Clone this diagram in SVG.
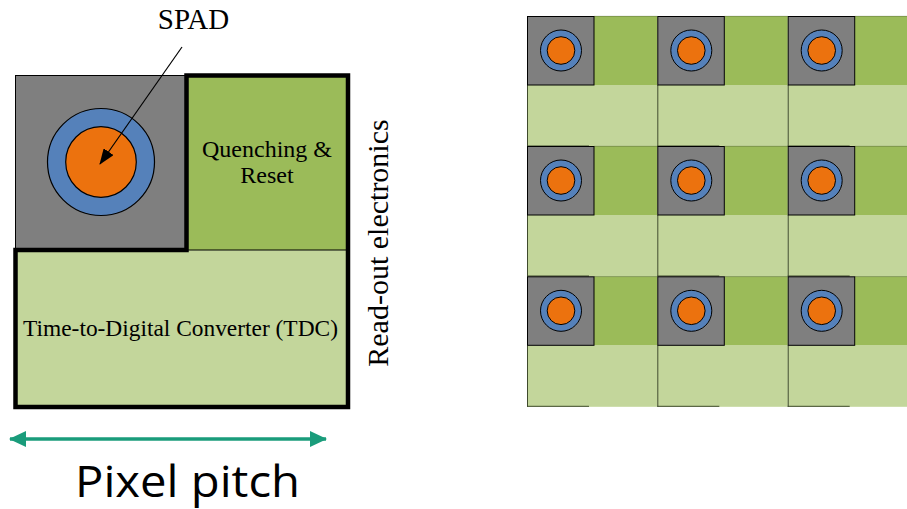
<svg xmlns="http://www.w3.org/2000/svg" xmlns:xlink="http://www.w3.org/1999/xlink" width="907" height="509" viewBox="0 0 907 509">
<style>
.gray{fill:#7f7f7f}
.dg{fill:#9bbb59}
.lg{fill:#c3d69b}
.ring{fill:#5581ba;stroke:#000}
.core{fill:#ec720e;stroke:#000}
.serif{font-family:"Liberation Serif","Times New Roman",serif;fill:#000}
.thin{stroke:#3f4a2c;stroke-width:1;fill:none}
</style>
<defs>
<marker id="ah" markerUnits="userSpaceOnUse" markerWidth="16" markerHeight="12" refX="15" refY="6" orient="auto">
<path d="M0,0 L16,6 L0,12 Z" fill="#000"/>
</marker>
<marker id="gh" markerUnits="userSpaceOnUse" markerWidth="17" markerHeight="16" refX="16" refY="8" orient="auto-start-reverse">
<path d="M0,0 L17,8 L0,16 Z" fill="#1a9c7b"/>
</marker>
<g id="cell">
<rect class="lg" x="0" y="69" width="130.5" height="61.5"/>
<rect class="dg" x="67" y="0" width="63.5" height="69"/>
<line class="thin" x1="67" y1="0.3" x2="130.5" y2="0.3" stroke-opacity="0.35"/>
<line class="thin" x1="0.5" y1="69" x2="0.5" y2="130.5"/>
<line class="thin" x1="0" y1="130" x2="62" y2="130"/>
<rect class="gray" x="0.5" y="0.5" width="66.5" height="68.5" stroke="#000" stroke-width="1"/>
<circle class="ring" cx="34" cy="34.5" r="20.5" stroke-width="1"/>
<circle class="core" cx="34" cy="34.5" r="13.8" stroke-width="1"/>
</g>
</defs>

<g id="pixel">
<rect class="gray" x="15.5" y="75.5" width="171" height="174.5" stroke="#000" stroke-width="1"/>
<rect class="dg" x="186.5" y="75.5" width="161.5" height="174.5"/>
<rect class="lg" x="15.5" y="250" width="332.5" height="157"/>
<line x1="186.5" y1="250" x2="348" y2="250" stroke="#000" stroke-width="1"/>
<polygon points="186.5,75.5 348,75.5 348,407 15.5,407 15.5,250 186.5,250" fill="none" stroke="#000" stroke-width="4.5" stroke-linejoin="miter"/>
<circle class="ring" cx="101" cy="162" r="53.5" stroke-width="1.2"/>
<circle class="core" cx="101" cy="162" r="35.3" stroke-width="1.2"/>
</g>

<g id="spad-label">
<text class="serif" x="193.5" y="29" font-size="29" text-anchor="middle">SPAD</text>
</g>
<g id="quenching">
<text class="serif" x="267" y="157" font-size="24" text-anchor="middle">Quenching &amp;</text>
<text class="serif" x="267" y="183" font-size="24" text-anchor="middle">Reset</text>
</g>
<g id="tdc">
<text class="serif" x="180.5" y="336" font-size="23.4" text-anchor="middle">Time-to-Digital Converter (TDC)</text>
</g>
<g id="readout">
<text class="serif" transform="translate(388,243) rotate(-90)" x="0" y="0" font-size="30" text-anchor="middle">Read-out electronics</text>
</g>
<g id="pitch-label">
<text x="75" y="496.5" font-family="'Open Sans','Noto Sans',sans-serif" font-size="43" textLength="225" lengthAdjust="spacingAndGlyphs" fill="#000">Pixel pitch</text>
</g>

<g id="connectors">
<line x1="182" y1="47" x2="100" y2="164" stroke="#000" stroke-width="1.2" marker-end="url(#ah)"/>
<line x1="10" y1="439" x2="326" y2="439" stroke="#1a9c7b" stroke-width="3.5" marker-start="url(#gh)" marker-end="url(#gh)"/>
</g>

<g id="array">
<g id="cell-1-1"><use xlink:href="#cell" x="527" y="16"/></g>
<g id="cell-1-2"><use xlink:href="#cell" x="657.3" y="16"/></g>
<g id="cell-1-3"><use xlink:href="#cell" x="787.7" y="16"/></g>
<g id="cell-2-1"><use xlink:href="#cell" x="527" y="146"/></g>
<g id="cell-2-2"><use xlink:href="#cell" x="657.3" y="146"/></g>
<g id="cell-2-3"><use xlink:href="#cell" x="787.7" y="146"/></g>
<g id="cell-3-1"><use xlink:href="#cell" x="527" y="276.3"/></g>
<g id="cell-3-2"><use xlink:href="#cell" x="657.3" y="276.3"/></g>
<g id="cell-3-3"><use xlink:href="#cell" x="787.7" y="276.3"/></g>
</g>
</svg>
